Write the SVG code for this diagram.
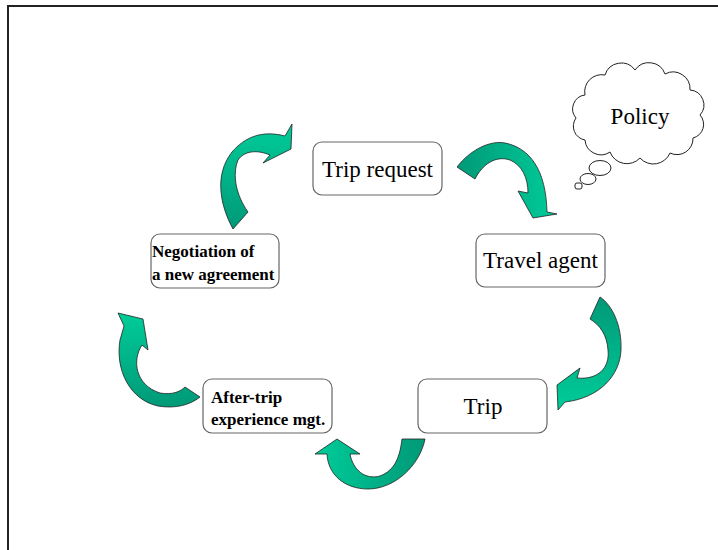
<svg xmlns="http://www.w3.org/2000/svg" width="718" height="550" viewBox="0 0 718 550">
<style>
.box{fill:#fff;stroke:#666;stroke-width:1.2}
.t{font-family:"Liberation Serif","Times New Roman",serif;font-size:23px;fill:#000}
.b{font-family:"Liberation Serif","Times New Roman",serif;font-size:17px;font-weight:bold;fill:#000}
.arr{stroke:#222;stroke-width:0.8;stroke-linejoin:round}
</style>
<defs>
<linearGradient id="gV" x1="0" y1="0" x2="0" y2="1"><stop offset="0" stop-color="#00cc99"/><stop offset="1" stop-color="#009977"/></linearGradient>
<linearGradient id="gVr" x1="0" y1="0" x2="0" y2="1"><stop offset="0" stop-color="#009977"/><stop offset="1" stop-color="#00cc99"/></linearGradient>
<linearGradient id="gH" x1="0" y1="0" x2="1" y2="0"><stop offset="0" stop-color="#009977"/><stop offset="1" stop-color="#00cc99"/></linearGradient>
<linearGradient id="gHr" x1="0" y1="0" x2="1" y2="0"><stop offset="0" stop-color="#00cc99"/><stop offset="1" stop-color="#009977"/></linearGradient>
</defs>
<rect width="718" height="550" fill="#fff"/>
<path d="M8 550 V6 H718" fill="none" stroke="#222" stroke-width="2"/>

<g id="connectors">
<path class="arr" fill="url(#gV)" d="M233 229 C220 205 214 175 232 152 C245 137 262 130 285 136 L292 124 L291 149 L263 163 L270 155 C258 150 245 150 238 160 C232 175 236 195 248 212 Z"/>
<path class="arr" fill="url(#gH)" d="M457 167 C470 150 490 140 505 143 C530 148 546 170 547 212 L557 214 L533 218 L518 191 L528 193 C528 178 522 165 510 160 C495 155 482 165 475 179 Z"/>
<path class="arr" fill="url(#gVr)" d="M600 297 C612 305 622 325 621 350 C620 375 600 398 565 402 L558 410 L557 385 L580 368 L577 378 C598 380 610 368 608 350 C607 335 600 325 590 319 Z"/>
<path class="arr" fill="url(#gHr)" d="M327 454 C328 475 345 489 368 489 C395 489 420 465 425 439 L402 439 C400 455 396 470 380 476 C365 480 353 470 350 454 L360 454 L337 439 L315 454 Z"/>
<path class="arr" fill="url(#gV)" d="M118 313 L143 319 L148 350 L142 345 C132 360 135 385 160 393 C172 395 180 392 185 387 L200 397 C190 405 175 409 158 406 C130 400 115 370 120 340 L124 326 Z"/>
</g>

<g id="policy">
<path d="M585 95 A17 17 0 0 1 605 75 A17 17 0 0 1 635 70 A17 17 0 0 1 665 74 A17 17 0 0 1 690 90 A15 15 0 0 1 700 115 A14 14 0 0 1 693 138 A16 16 0 0 1 670 153 A18 18 0 0 1 640 158 A18 18 0 0 1 610 152 A16 16 0 0 1 585 140 A14 14 0 0 1 576 118 A14 14 0 0 1 585 95 Z" fill="#fff" stroke="#222" stroke-width="1"/>
<ellipse cx="600" cy="168" rx="11" ry="7.5" fill="#fff" stroke="#222" stroke-width="1"/>
<ellipse cx="588" cy="179" rx="8" ry="5.5" fill="#fff" stroke="#222" stroke-width="1"/>
<rect x="575" y="183" width="7" height="6" rx="2" fill="#fff" stroke="#222" stroke-width="1"/>
<text class="t" x="640" y="124" text-anchor="middle">Policy</text>
</g>

<g id="trip-request">
<rect class="box" x="313" y="142" width="129" height="53" rx="9"/>
<text class="t" x="377.5" y="177" text-anchor="middle">Trip request</text>
</g>
<g id="travel-agent">
<rect class="box" x="476" y="234" width="129" height="53" rx="9"/>
<text class="t" x="540.5" y="268" text-anchor="middle">Travel agent</text>
</g>
<g id="trip">
<rect class="box" x="418" y="379" width="129" height="54" rx="9"/>
<text class="t" x="483" y="414" text-anchor="middle">Trip</text>
</g>
<g id="after-trip">
<rect class="box" x="203" y="379" width="129" height="54" rx="9"/>
<text class="b" x="211" y="403">After-trip</text>
<text class="b" x="211" y="425">experience mgt.</text>
</g>
<g id="negotiation">
<rect class="box" x="151" y="234" width="128" height="54" rx="9"/>
<text class="b" x="152" y="257">Negotiation of</text>
<text class="b" x="152" y="280">a new agreement</text>
</g>
</svg>
